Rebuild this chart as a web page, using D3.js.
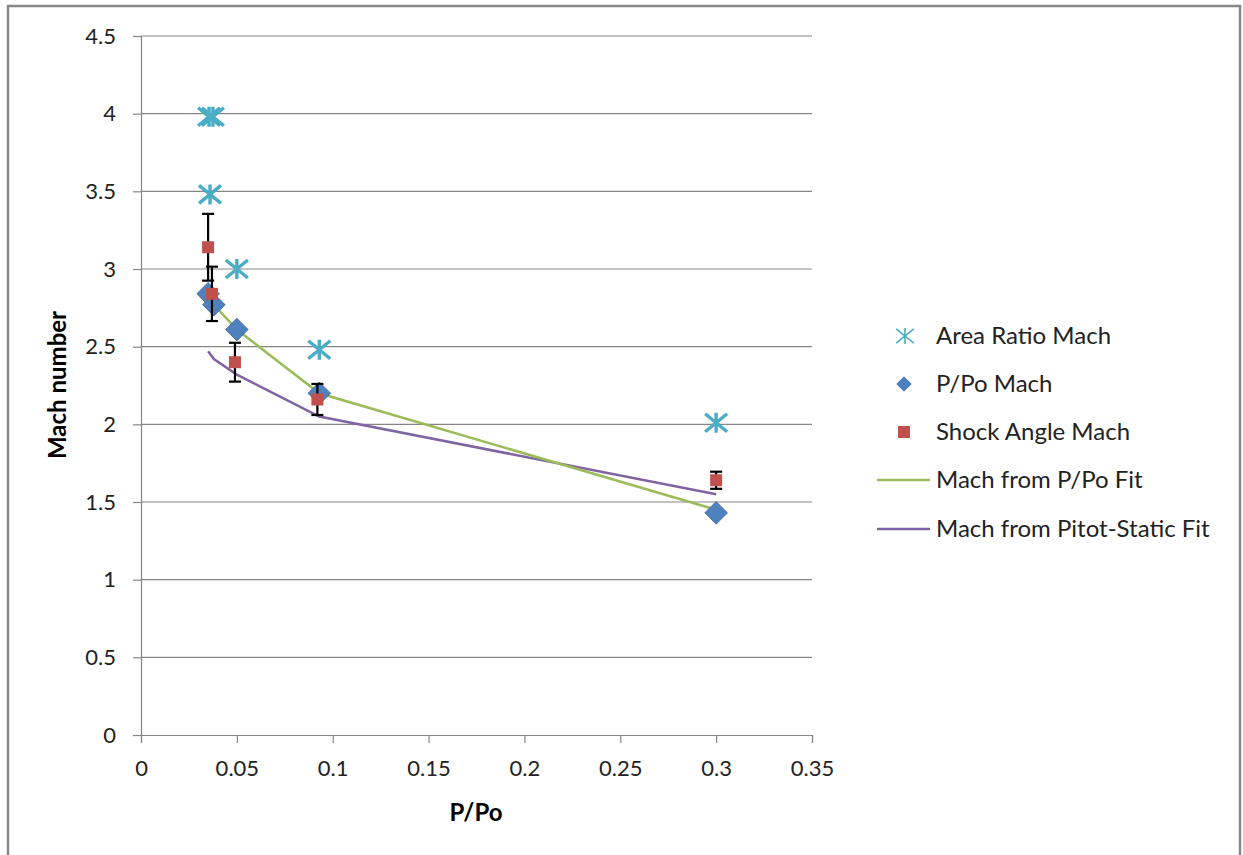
<!DOCTYPE html>
<html><head><meta charset="utf-8">
<script src="https://cdn.jsdelivr.net/npm/d3@7"></script>
<style>body{margin:0;background:#fff}svg{display:block}</style>
</head><body>
<svg id="c" width="1243" height="855"></svg>
<script>
// Data
const areaX = [0.0355, 0.0375, 0.036, 0.050, 0.093, 0.300];
const areaY = [3.98, 3.98, 3.48, 3.00, 2.48, 2.01];
const ppoX = [0.035, 0.038, 0.050, 0.093, 0.300];
const ppoY = [2.84, 2.77, 2.61, 2.20, 1.43];
const shockX = [0.035, 0.037, 0.049, 0.092, 0.300];
const shockY = [3.14, 2.84, 2.40, 2.16, 1.64];
const shockErr = [0.215, 0.175, 0.125, 0.10, 0.055];
const fitPpoX = [0.035, 0.038, 0.050, 0.093, 0.300];
const fitPpoY = [2.84, 2.77, 2.61, 2.20, 1.45];
const fitPitotX = [0.035, 0.038, 0.050, 0.093, 0.300];
const fitPitotY = [2.47, 2.42, 2.32, 2.05, 1.55];
const xTicks = [0, 0.05, 0.1, 0.15, 0.2, 0.25, 0.3, 0.35];
const yTicks = [0, 0.5, 1, 1.5, 2, 2.5, 3, 3.5, 4, 4.5];
const legendLabels = ["Area Ratio Mach", "P/Po Mach", "Shock Angle Mach", "Mach from P/Po Fit", "Mach from Pitot-Static Fit"];

const C = {area:"#4BACC6", ppo:"#4F81BD", shock:"#C0504D", green:"#9BBB59", purple:"#8064A2"};
const font = "Lato, 'Open Sans', sans-serif";
const svg = d3.select("#c");

// outer border
svg.append("rect").attr("x",8).attr("y",6).attr("width",1232).attr("height",860)
  .attr("fill","none").attr("stroke","#888").attr("stroke-width",2.5);

const x = d3.scaleLinear().domain([0,0.35]).range([141,812]);
const y = d3.scaleLinear().domain([0,4.5]).range([735,36]);

// grid
svg.append("g").selectAll("line").data(yTicks.filter(d=>d>0)).join("line")
  .attr("x1",141).attr("x2",812).attr("y1",d=>y(d)).attr("y2",d=>y(d))
  .attr("stroke","#868686").attr("stroke-width",1.2);

// axes
const yAx = svg.append("g").attr("transform","translate(141,0)")
  .call(d3.axisLeft(y).tickValues(yTicks).tickFormat(d=>String(d)).tickSize(8).tickPadding(17));
const xAx = svg.append("g").attr("transform","translate(0,735)")
  .call(d3.axisBottom(x).tickValues(xTicks).tickFormat(d=>String(d)).tickSize(8).tickPadding(17));
[yAx,xAx].forEach(g=>{
  g.select(".domain").attr("stroke","#868686").attr("stroke-width",1.2);
  g.selectAll(".tick line").attr("stroke","#868686").attr("stroke-width",1.2);
  g.selectAll(".tick text").attr("font-family",font).attr("font-size",22).attr("fill","#222");
});

// axis titles
svg.append("text").attr("x",476).attr("y",821).attr("text-anchor","middle")
  .attr("font-family",font).attr("font-weight","bold").attr("font-size",24).text("P/Po");
svg.append("text").attr("transform","translate(66,385) rotate(-90)").attr("text-anchor","middle")
  .attr("font-family",font).attr("font-weight","bold").attr("font-size",24).text("Mach number");

// lines
const line = d3.line().x(d=>x(d[0])).y(d=>y(d[1]));
svg.append("path").datum(fitPitotX.map((v,i)=>[v,fitPitotY[i]])).attr("d",line)
  .attr("fill","none").attr("stroke",C.purple).attr("stroke-width",2.5);
svg.append("path").datum(fitPpoX.map((v,i)=>[v,fitPpoY[i]])).attr("d",line)
  .attr("fill","none").attr("stroke",C.green).attr("stroke-width",2.5);

// star marker
function star(g, cx, cy, r, w){
  const a = r*1.1, b = r*0.9;
  const p = `M${cx},${cy-r}L${cx},${cy+r}M${cx-a},${cy-b}L${cx+a},${cy+b}M${cx-a},${cy+b}L${cx+a},${cy-b}`;
  g.append("path").attr("d",p).attr("stroke",C.area).attr("stroke-width",w).attr("fill","none");
}
const sg = svg.append("g");
areaX.forEach((v,i)=>star(sg, x(v), y(areaY[i]), 10, 3.4));

// diamonds
svg.append("g").selectAll("rect").data(ppoX.map((v,i)=>[v,ppoY[i]])).join("rect")
  .attr("x",-8).attr("y",-8).attr("width",16).attr("height",16)
  .attr("transform",d=>`translate(${x(d[0])},${y(d[1])}) rotate(45)`)
  .attr("fill",C.ppo).attr("stroke","#3b6aa6").attr("stroke-width",0.8);

// error bars
const eg = svg.append("g").attr("stroke","#000").attr("stroke-width",2.2);
shockX.forEach((v,i)=>{
  const cx = x(v), t = y(shockY[i]+shockErr[i]), b = y(shockY[i]-shockErr[i]);
  eg.append("line").attr("x1",cx).attr("x2",cx).attr("y1",t).attr("y2",b);
  eg.append("line").attr("x1",cx-6).attr("x2",cx+6).attr("y1",t).attr("y2",t);
  eg.append("line").attr("x1",cx-6).attr("x2",cx+6).attr("y1",b).attr("y2",b);
});

// squares
svg.append("g").selectAll("rect").data(shockX.map((v,i)=>[v,shockY[i]])).join("rect")
  .attr("x",d=>x(d[0])-6).attr("y",d=>y(d[1])-6).attr("width",12).attr("height",12)
  .attr("fill",C.shock);

// legend
const lg = svg.append("g");
const ly = [336, 384, 432, 480, 529];
legendLabels.forEach((t,i)=>{
  lg.append("text").attr("x",936).attr("y",ly[i]+8).attr("font-family",font)
    .attr("font-size",24).attr("fill","#222").text(t);
});
star(lg, 905, ly[0], 8, 1.6);
lg.append("rect").attr("x",-5.5).attr("y",-5.5).attr("width",11).attr("height",11)
  .attr("transform",`translate(904,${ly[1]}) rotate(45)`).attr("fill",C.ppo);
lg.append("rect").attr("x",898).attr("y",ly[2]-6).attr("width",12).attr("height",12).attr("fill",C.shock);
lg.append("line").attr("x1",877).attr("x2",930).attr("y1",ly[3]).attr("y2",ly[3]).attr("stroke",C.green).attr("stroke-width",2.5);
lg.append("line").attr("x1",877).attr("x2",930).attr("y1",ly[4]).attr("y2",ly[4]).attr("stroke",C.purple).attr("stroke-width",2.5);
</script>
</body></html>
